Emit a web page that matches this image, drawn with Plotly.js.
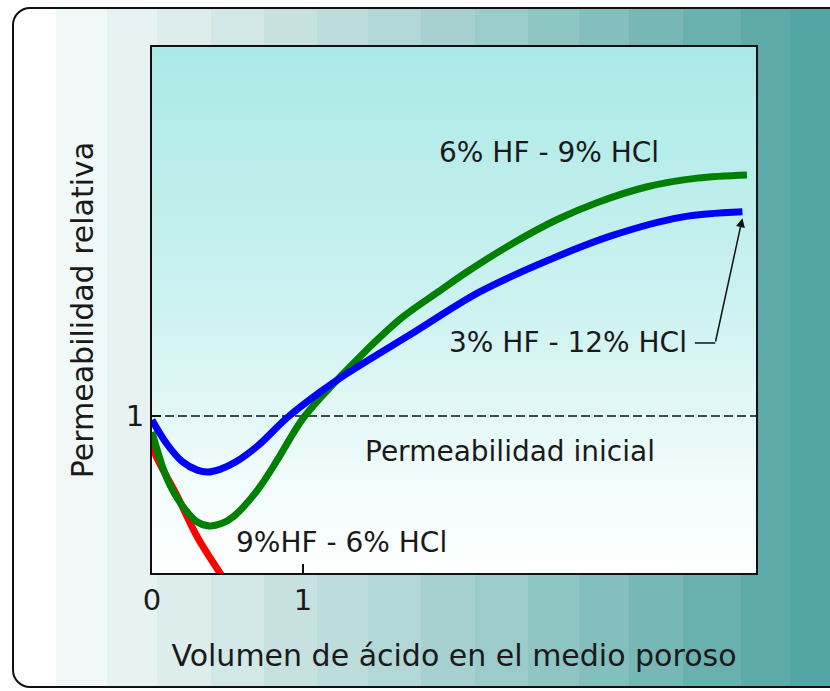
<!DOCTYPE html>
<html>
<head>
<meta charset="utf-8">
<script src="https://cdn.plot.ly/plotly-3.0.1.min.js"></script>
<style>
  html, body { margin: 0; padding: 0; background: #ffffff; overflow: hidden; }
  #frame { position: absolute; left: 12px; top: 7px; width: 834px; height: 677px;
           border: 2px solid #111; border-radius: 18px; }
  #chart { position: absolute; left: 0; top: 0; width: 830px; height: 691px; }
</style>
</head>
<body>
<div id="frame"></div>
<div id="chart"></div>
<script>
// ---- data ----
const xGreen = [0, 0.10, 0.20, 0.30, 0.38, 0.46, 0.54, 0.70, 0.83, 0.91, 1.00, 1.11, 1.40, 1.66, 1.91, 2.09, 2.39, 2.68, 2.95, 3.28, 3.61, 3.94];
const yGreen = [0.898, 0.600, 0.430, 0.325, 0.300, 0.315, 0.360, 0.530, 0.720, 0.850, 0.985, 1.110, 1.400, 1.630, 1.800, 1.920, 2.100, 2.250, 2.360, 2.460, 2.515, 2.535];

const xBlue = [0, 0.10, 0.20, 0.30, 0.37, 0.45, 0.55, 0.70, 0.89, 1.11, 1.29, 1.73, 2.17, 2.62, 3.05, 3.50, 3.91];
const yBlue = [0.975, 0.820, 0.710, 0.655, 0.643, 0.660, 0.705, 0.810, 0.985, 1.150, 1.270, 1.530, 1.790, 1.990, 2.150, 2.265, 2.300];

const xRed = [0, 0.03, 0.17, 0.30, 0.45, 0.48];
const yRed = [0.82, 0.739, 0.484, 0.229, 0.0, -0.045];

const xTickVals = [0, 1];
const xTickText = ['0', '1'];
const yTickVals = [1];
const yTickText = ['1'];
const initialPermeability = 1;

const labelGreen = '6% HF - 9% HCl';
const labelBlue = '3% HF - 12% HCl';
const labelRed = '9%HF - 6% HCl';
const labelInitial = 'Permeabilidad inicial';
const xTitle = 'Volumen de ácido en el medio poroso';
const yTitle = 'Permeabilidad relativa';

// ---- outer banded background ----
const bandEdges = [0, 56, 107, 157, 211, 264, 317, 368, 421, 475, 528, 579, 629, 683, 741, 790, 900];
const bandColors = ['#ffffff', '#f1f9f8', '#e7f2f2', '#dcedec', '#d2e8e8', '#c7e1e1', '#bddcdc', '#b1d7d6',
                    '#a7d1d0', '#9bcbca', '#8fc6c4', '#83bfbd', '#77b8b6', '#69b1af', '#5eaaa8', '#53a5a3'];
const stops = [];
for (let i = 0; i < bandColors.length; i++) {
  const a = Math.max(0, bandEdges[i] - 14), b = bandEdges[i + 1] - 14;
  stops.push(bandColors[i] + ' ' + a + 'px', bandColors[i] + ' ' + b + 'px');
}
document.getElementById('frame').style.background = 'linear-gradient(to right, ' + stops.join(', ') + ')';

// ---- plot-area vertical gradient ----
const svg = '<svg xmlns="http://www.w3.org/2000/svg" width="100" height="100" preserveAspectRatio="none">' +
  '<defs><linearGradient id="g" x1="0" y1="0" x2="0" y2="1">' +
  '<stop offset="0" stop-color="#aae9e6"/><stop offset="0.5" stop-color="#cdf2f0"/>' +
  '<stop offset="0.8" stop-color="#eefbfa"/><stop offset="1" stop-color="#ffffff"/>' +
  '</linearGradient></defs><rect width="100" height="100" fill="url(#g)"/></svg>';
const svgUri = 'data:image/svg+xml;base64,' + btoa(svg);

const FONT = 'DejaVu Sans';
const TXT = '#1a1a1a';

const traces = [
  { x: xRed, y: yRed, mode: 'lines', line: { color: '#ff0000', width: 7, shape: 'spline', smoothing: 1 }, hoverinfo: 'skip' },
  { x: xGreen, y: yGreen, mode: 'lines', line: { color: '#008000', width: 7, shape: 'spline', smoothing: 1 }, hoverinfo: 'skip' },
  { x: xBlue, y: yBlue, mode: 'lines', line: { color: '#0000ff', width: 7, shape: 'spline', smoothing: 1 }, hoverinfo: 'skip' }
];

const layout = {
  width: 830, height: 691,
  margin: { l: 152, r: 74, t: 47, b: 118 },
  paper_bgcolor: 'rgba(0,0,0,0)',
  plot_bgcolor: 'rgba(0,0,0,0)',
  showlegend: false,
  font: { family: FONT, size: 29, color: TXT },
  xaxis: {
    range: [0, 4], showgrid: false, zeroline: false,
    showline: true, linecolor: '#111', linewidth: 2, mirror: true,
    ticks: 'inside', ticklen: 9, tickwidth: 1.5, tickcolor: '#111',
    tickvals: xTickVals, ticktext: xTickText,
    tickfont: { family: FONT, size: 29, color: TXT },
    title: { text: xTitle, font: { family: FONT, size: 30, color: TXT }, standoff: 29 },
    fixedrange: true
  },
  yaxis: {
    range: [0, 3.35], showgrid: false, zeroline: false,
    showline: true, linecolor: '#111', linewidth: 2, mirror: true,
    ticks: 'inside', ticklen: 9, tickwidth: 1.5, tickcolor: '#111',
    tickvals: yTickVals, ticktext: yTickText,
    tickfont: { family: FONT, size: 29, color: TXT },
    title: { text: yTitle, font: { family: FONT, size: 30, color: TXT }, standoff: 23 },
    fixedrange: true
  },
  images: [{
    source: svgUri, xref: 'paper', yref: 'paper', x: 0, y: 1, sizex: 1, sizey: 1,
    xanchor: 'left', yanchor: 'top', sizing: 'stretch', layer: 'below'
  }],
  shapes: [
    { type: 'line', xref: 'paper', yref: 'y', x0: 0, x1: 1, y0: initialPermeability, y1: initialPermeability,
      line: { color: '#111', width: 1.5, dash: '9px,4px' }, layer: 'below' },
    { type: 'line', xref: 'x', yref: 'y', x0: 3.595, x1: 3.73, y0: 1.465, y1: 1.465,
      line: { color: '#111', width: 1.5 } }
  ],
  annotations: [
    { x: 2.63, y: 2.68, xref: 'x', yref: 'y', text: labelGreen, showarrow: false, font: { family: FONT, size: 28, color: TXT } },
    { x: 2.755, y: 1.465, xref: 'x', yref: 'y', text: labelBlue, showarrow: false, font: { family: FONT, size: 28, color: TXT } },
    { x: 1.258, y: 0.197, xref: 'x', yref: 'y', text: labelRed, showarrow: false, font: { family: FONT, size: 28, color: TXT } },
    { x: 2.37, y: 0.771, xref: 'x', yref: 'y', text: labelInitial, showarrow: false, font: { family: FONT, size: 28, color: TXT } },
    { x: 3.91, y: 2.26, xref: 'x', yref: 'y', ax: 3.73, ay: 1.465, axref: 'x', ayref: 'y',
      text: '', showarrow: true, arrowhead: 2, arrowsize: 1.2, arrowwidth: 1.5, arrowcolor: '#111', standoff: 0 }
  ]
};

Plotly.newPlot('chart', traces, layout, { staticPlot: true, displayModeBar: false });
</script>
</body>
</html>
